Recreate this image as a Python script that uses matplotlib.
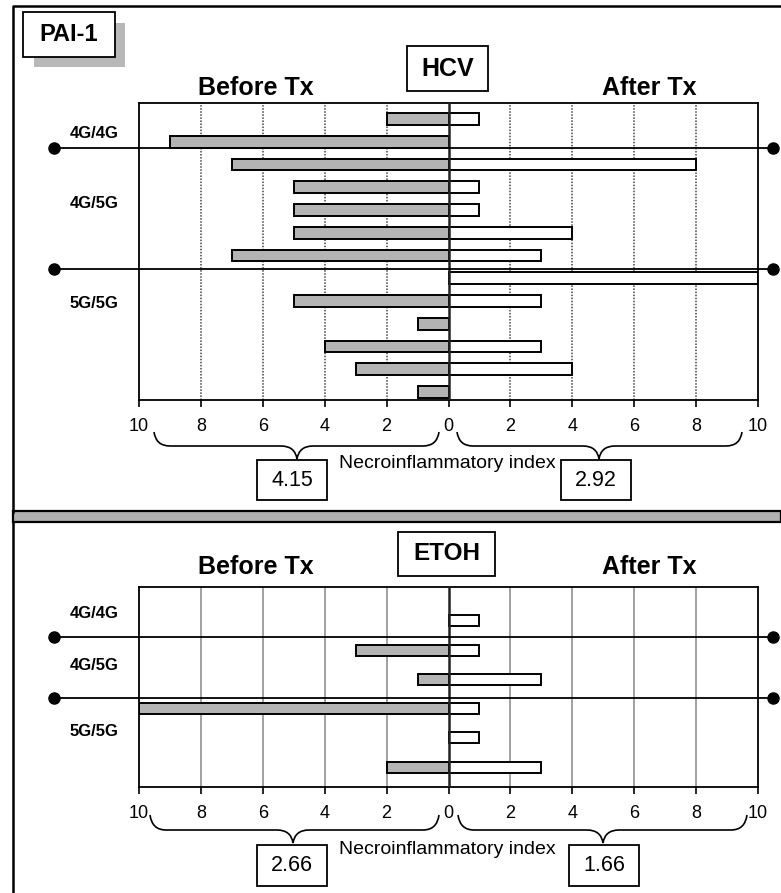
"""PAI-1 genotype vs necroinflammatory index, before/after treatment,
for HCV and ETOH patients (butterfly bar charts)."""
import matplotlib
matplotlib.use("Agg")
import matplotlib.pyplot as plt
from matplotlib.patches import Rectangle, PathPatch
from matplotlib.path import Path
import numpy as np

plt.rcParams["font.family"] = ["Liberation Sans", "DejaVu Sans"]

W, H = 781, 893

# per-patient scores, rows top to bottom
HCV_BEFORE = [2, 9, 7, 5, 5, 5, 7, 0, 5, 1, 4, 3, 1]
HCV_AFTER = [1, 0, 8, 1, 1, 4, 3, 10, 3, 0, 3, 4, 0]
ETOH_BEFORE = [0, 3, 1, 10, 0, 2]
ETOH_AFTER = [1, 1, 3, 1, 1, 3]
GENOTYPES = ["4G/4G", "4G/5G", "5G/5G"]
HCV_MEANS = ["4.15", "2.92"]
ETOH_MEANS = ["2.66", "1.66"]
TICKS = [-10, -8, -6, -4, -2, 0, 2, 4, 6, 8, 10]

GRAY = "#b4b4b4"


def px_axes(fig, left, top, right, bottom):
    return fig.add_axes([left / W, 1 - bottom / H, (right - left) / W, (bottom - top) / H])


def butterfly(ax, before, after, ylim, bar_h, grid_style):
    y = np.arange(len(before))
    b = np.array(before, float)
    a = np.array(after, float)
    mb, ma = b > 0, a > 0
    for x in [-8, -6, -4, -2, 2, 4, 6, 8]:
        if grid_style == "dotted":
            ax.axvline(x, color="#444444", lw=1.1, ls=(0, (1, 1)), zorder=0)
        else:
            ax.axvline(x, color="#9a9a9a", lw=1.3, zorder=0)
    ax.barh(y[mb], -b[mb], height=bar_h, color=GRAY, edgecolor="black", lw=1.4, zorder=2)
    ax.barh(y[ma], a[ma], height=bar_h, color="white", edgecolor="black", lw=1.4, zorder=2)
    ax.axvline(0, color="#222222", lw=1.8, zorder=3)
    ax.set_xlim(-10, 10)
    ax.set_ylim(*ylim)
    ax.set_yticks([])
    ax.set_xticks(TICKS)
    ax.set_xticklabels([str(abs(t)) for t in TICKS], fontsize=13)
    ax.tick_params(axis="x", direction="out", length=5, width=1.2, pad=8)
    for s in ax.spines.values():
        s.set_linewidth(1.3)
        s.set_color("black")


def brace(ov, x0, x1, xt, y0, y1, y2, r=16):
    verts = [(x0, y0), (x0 + 2, y1), (x0 + r, y1),
             (xt - r, y1), (xt - 2, y1), (xt, y2),
             (xt + 2, y1), (xt + r, y1),
             (x1 - r, y1), (x1 - 2, y1), (x1, y0)]
    codes = [Path.MOVETO, Path.CURVE3, Path.CURVE3,
             Path.LINETO, Path.CURVE3, Path.CURVE3,
             Path.CURVE3, Path.CURVE3,
             Path.LINETO, Path.CURVE3, Path.CURVE3]
    ov.add_patch(PathPatch(Path(verts, codes), fill=False, lw=1.2, color="black"))


def box(ov, x, y, w, h, text, size, bold=False):
    ov.add_patch(Rectangle((x, y), w, h, facecolor="white", edgecolor="black", lw=1.3))
    ov.text(x + w / 2, y + h / 2, text, ha="center", va="center", fontsize=size,
            fontweight="bold" if bold else "normal")


def sep_line(ov, y):
    ov.plot([54, 773], [y, y], color="black", lw=1.3, zorder=5)
    ov.plot([54, 773], [y, y], "o", color="black", ms=8, zorder=5)


fig = plt.figure(figsize=(W / 100, H / 100), dpi=100)

ax1 = px_axes(fig, 139, 103, 758, 400)
butterfly(ax1, HCV_BEFORE, HCV_AFTER, (12.35, -0.70), 0.52, "dotted")
ax2 = px_axes(fig, 139, 587, 758, 787)
butterfly(ax2, ETOH_BEFORE, ETOH_AFTER, (5.68, -1.16), 0.38, "solid")

ov = fig.add_axes([0, 0, 1, 1], zorder=10)
ov.set_xlim(0, W); ov.set_ylim(H, 0); ov.axis("off")
ov.patch.set_alpha(0)

# frames and separator band
ov.plot([13, 13, W], [512, 6, 6], color="black", lw=1.8)
ov.add_patch(Rectangle((13, 511), W - 13, 11, facecolor="#b0b0b0", edgecolor="black", lw=1.6))
ov.plot([13, 13], [522, H], color="black", lw=1.8)

# PAI-1 label with shadow
ov.add_patch(Rectangle((34, 23), 91, 44, facecolor="#b8b8b8", edgecolor="none"))
box(ov, 23, 12, 92, 45, "PAI-1", 17, bold=True)

# HCV panel
box(ov, 407, 46, 81, 45, "HCV", 18, bold=True)
ov.text(256, 88, "Before Tx", ha="center", va="center", fontsize=18, fontweight="bold")
ov.text(649, 88, "After Tx", ha="center", va="center", fontsize=18, fontweight="bold")
for lab, y in zip(GENOTYPES, [133, 203, 303]):
    ov.text(94, y, lab, ha="center", va="center", fontsize=12, fontweight="bold")
sep_line(ov, 148)
sep_line(ov, 269)
brace(ov, 154, 439, 297, 432, 446, 459)
brace(ov, 457, 742, 599, 432, 446, 459)
box(ov, 257, 460, 70, 40, HCV_MEANS[0], 15.5)
box(ov, 561, 460, 70, 40, HCV_MEANS[1], 15.5)
ov.text(447, 463, "Necroinflammatory index", ha="center", va="center", fontsize=14)

# ETOH panel
box(ov, 398, 532, 97, 44, "ETOH", 17.5, bold=True)
ov.text(256, 567, "Before Tx", ha="center", va="center", fontsize=18, fontweight="bold")
ov.text(649, 567, "After Tx", ha="center", va="center", fontsize=18, fontweight="bold")
for lab, y in zip(GENOTYPES, [614, 665, 732]):
    ov.text(94, y, lab, ha="center", va="center", fontsize=12, fontweight="bold")
sep_line(ov, 637)
sep_line(ov, 698)
brace(ov, 150, 439, 293, 815, 830, 843)
brace(ov, 458, 747, 603, 815, 830, 843)
box(ov, 257, 845, 70, 41, ETOH_MEANS[0], 15.5)
box(ov, 569, 845, 70, 41, ETOH_MEANS[1], 15.5)
ov.text(447, 849, "Necroinflammatory index", ha="center", va="center", fontsize=14)

fig.savefig("out.png", dpi=100)
